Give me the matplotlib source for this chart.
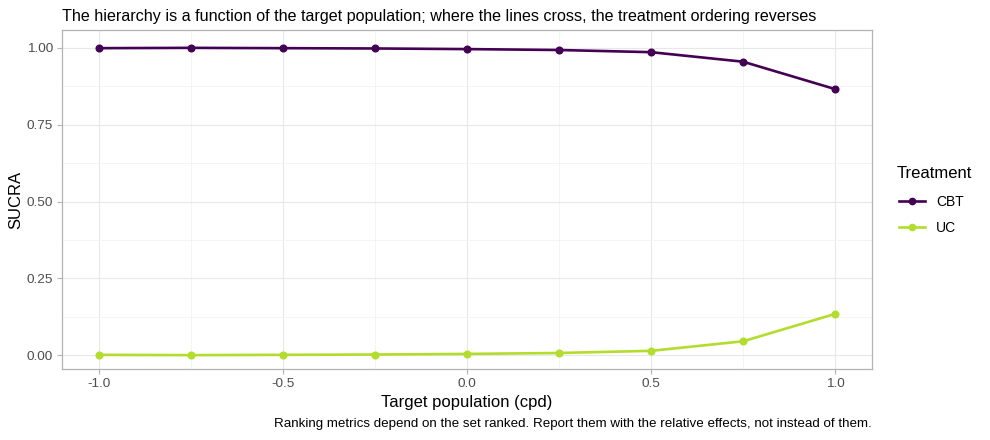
import matplotlib
matplotlib.use("Agg")
import matplotlib.pyplot as plt
from matplotlib.lines import Line2D
from matplotlib.ticker import MultipleLocator

plt.rcParams['font.family'] = ['Liberation Sans', 'DejaVu Sans']

# target population (cpd) and SUCRA per treatment
target = [-1.0, -0.75, -0.5, -0.25, 0.0, 0.25, 0.5, 0.75, 1.0]
cbt = [0.998, 0.999, 0.998, 0.997, 0.995, 0.992, 0.985, 0.954, 0.865]
uc = [0.002, 0.001, 0.002, 0.003, 0.005, 0.008, 0.015, 0.046, 0.135]
treatments = ['CBT', 'UC']
colors = ['#440154', '#B2DD2C']

x_ticks = [-1.0, -0.5, 0.0, 0.5, 1.0]
y_ticks = [0.0, 0.25, 0.5, 0.75, 1.0]

fig = plt.figure(figsize=(9.9, 4.4), dpi=100)
ax = fig.add_axes([62 / 990, 1 - 369 / 440, 810 / 990, 339 / 440])

for name, vals, col in zip(treatments, [cbt, uc], colors):
    ax.plot(target, vals, color=col, lw=1.9, marker='o', ms=4.8,
            solid_capstyle='butt', zorder=3, label=name)

ax.set_xlim(-1.1, 1.1)
ax.set_ylim(-0.044, 1.057)
ax.set_xticks(x_ticks)
ax.set_xticklabels(['%.1f' % v for v in x_ticks])
ax.set_yticks(y_ticks)
ax.set_yticklabels(['%.2f' % v for v in y_ticks])
ax.xaxis.set_minor_locator(MultipleLocator(0.25))
ax.yaxis.set_minor_locator(MultipleLocator(0.125))
ax.grid(which='major', color='#e8e8e8', lw=0.8)
ax.grid(which='minor', color='#f3f3f3', lw=0.6)
ax.set_axisbelow(True)
ax.tick_params(which='major', length=3.5, width=0.8, color='#b3b3b3',
               labelsize=9.7, labelcolor='#4d4d4d', pad=3)
ax.tick_params(which='minor', length=0)
for s in ax.spines.values():
    s.set_color('#b3b3b3')
    s.set_linewidth(0.9)

ax.set_xlabel('Target population (cpd)', fontsize=12)
ax.set_ylabel('SUCRA', fontsize=12)
ax.xaxis.set_label_coords(0.5, -(402 - 369) / 339, transform=ax.transAxes)
ax.xaxis.label.set_va('center')
ax.yaxis.set_label_coords(-(62 - 16) / 810, 0.5, transform=ax.transAxes)
ax.yaxis.label.set_va('center')

fig.text(62 / 990, 1 - 16 / 440,
         'The hierarchy is a function of the target population; where the lines cross, '
         'the treatment ordering reverses', fontsize=11.6, ha='left', va='center')

fig.text(872 / 990, 1 - 424 / 440,
         'Ranking metrics depend on the set ranked. Report them with the relative effects, '
         'not instead of them.', ha='right', va='center', fontsize=9.65)

# legend: title drawn separately so the gap to the keys matches
fig.text(897 / 990, 1 - 173 / 440, 'Treatment', fontsize=12, ha='left', va='center')
handles = [Line2D([], [], color=c, lw=1.9, marker='o', ms=4.5) for c in colors]
leg = fig.legend(handles, treatments, loc='upper left',
                 bbox_to_anchor=(886 / 990, 1 - 182 / 440), frameon=False,
                 fontsize=10, handlelength=1.9, labelspacing=0.88)

fig.savefig('out.png', dpi=100)
